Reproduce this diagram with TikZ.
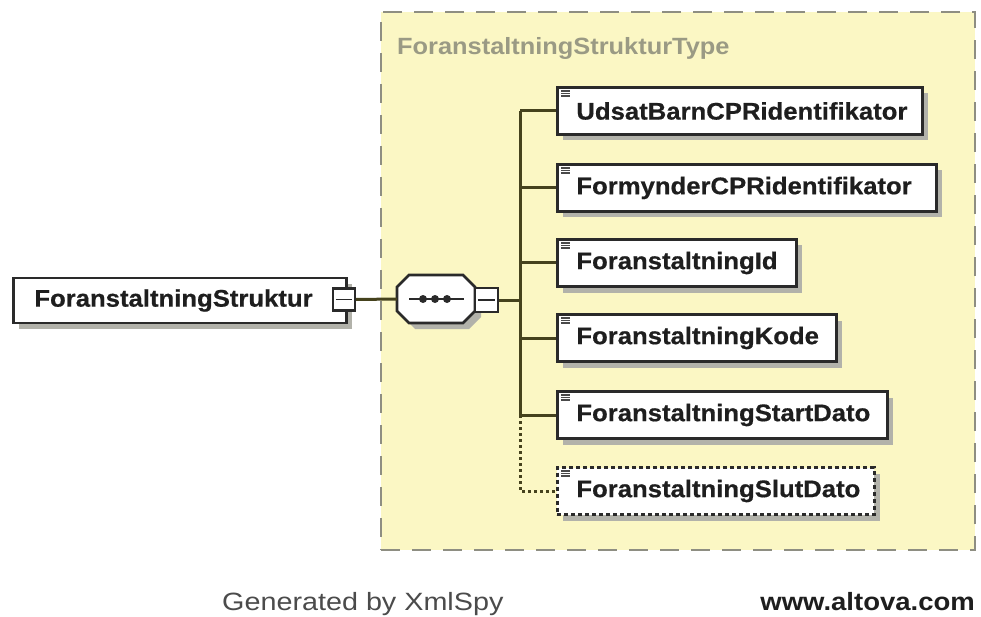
\documentclass[tikz,border=0pt]{standalone}
\usepackage{fontspec}
\setmainfont{Liberation Sans}
\newfontfamily\boxfont[FakeStretch=1.07,FakeBold=0.6]{Liberation Sans Bold}
\newfontfamily\titlefont[FakeStretch=1.08]{Liberation Sans Bold}
\newfontfamily\footfont[FakeStretch=1.15]{Liberation Sans}
\newfontfamily\footbold[FakeStretch=1.1]{Liberation Sans Bold}
\usetikzlibrary{shadows}
\definecolor{boxline}{HTML}{2A2A2A}
\definecolor{conn}{HTML}{45421D}
\definecolor{shadowgray}{HTML}{B2B2AA}
\definecolor{typefill}{HTML}{FBF7C4}
\definecolor{typeline}{HTML}{8E8E82}
\definecolor{titlegray}{HTML}{9A9A84}
\definecolor{textdark}{HTML}{1E1E1E}
\definecolor{icongray}{HTML}{4A4A4A}
\tikzset{
  elem/.style={draw=boxline, line width=2.8pt, fill=white,
    general shadow={fill=shadowgray, shadow xshift=6pt, shadow yshift=-6pt},
    minimum height=47pt, inner xsep=19pt, inner ysep=0pt, align=left,
    font=\boxfont\fontsize{24}{28}\selectfont, text=textdark, anchor=west},
  optelem/.style={elem, dash pattern=on 4pt off 3pt},
  minusbox/.style={draw=boxline, line width=2.4pt, fill=white,
    minimum width=22pt, minimum height=22pt, inner sep=0pt},
  seqanchor/.style={minimum width=78pt, minimum height=48pt, inner sep=0pt},
  seqline/.style={draw=boxline, line width=2.8pt, fill=white, line join=miter},
  conline/.style={draw=conn, line width=3pt},
  optline/.style={draw=conn, line width=3pt, dash pattern=on 3pt off 3pt},
  typebox/.style={draw=typeline, fill=typefill, line width=2.6pt, dash pattern=on 19pt off 12pt,
    minimum width=594pt, minimum height=538pt, inner sep=0pt},
  iconline/.style={draw=icongray, line width=1.4pt}
}
\newcommand\elicon[1]{%
  \foreach \d in {5,7.5,10}{\draw[iconline] ([shift={(5pt,-\d pt)}]#1.north west) -- ++(9pt,0pt);}}
\begin{document}
\begin{tikzpicture}[x=1pt,y=-1pt]
\useasboundingbox (0,0) rectangle (981,617);
\fill[white] (0,0) rectangle (981,617);
% type container
\node[typebox] (type) at (678,281) {};
\node[anchor=base west, text=titlegray, font=\titlefont\fontsize{23.5}{28}\selectfont, inner sep=0pt] (title) at (397,55) {ForanstaltningStrukturType};
% root element
\node[elem, minimum height=45pt, inner xsep=21pt, text width=291pt] (root) at (12,300.5) {ForanstaltningStruktur};
\node[minusbox] (rminus) at (344,299.5) {};
\draw[draw=boxline, line width=1.6pt] ([xshift=4pt]rminus.west) -- ([xshift=-4pt]rminus.east);
% sequence
\node[seqanchor] (seq) at (436,299) {};
\fill[shadowgray, shift={(6,6)}] (409,275) -- (463,275) -- (475,287) -- (475,311) -- (463,323) -- (409,323) -- (397,311) -- (397,287) -- cycle;
\draw[seqline] (409,275) -- (463,275) -- (475,287) -- (475,311) -- (463,323) -- (409,323) -- (397,311) -- (397,287) -- cycle;
\node[minusbox, minimum width=23pt, minimum height=24pt] (sminus) at (486.5,300) {};
\draw[draw=boxline, line width=1.6pt] ([xshift=4pt]sminus.west) -- ([xshift=-4pt]sminus.east);
\draw[draw=boxline, line width=2.6pt] (409,299) -- (464,299);
\foreach \xx in {423,435,447} \fill[boxline] (\xx,299) circle (4pt);
\draw[conline] (rminus.east) -- (seq.west);
\coordinate (trunk) at (520,300);
\draw[conline] (sminus.east) -- (trunk);
% children
\node[elem, text width=327pt] (c1) at (556,111) {UdsatBarnCPRidentifikator};
\node[elem, text width=341pt] (c2) at (556,188) {FormynderCPRidentifikator};
\node[elem, text width=201pt] (c3) at (556,263) {ForanstaltningId};
\node[elem, text width=241pt] (c4) at (556,338) {ForanstaltningKode};
\node[elem, text width=292pt] (c5) at (556,415) {ForanstaltningStartDato};
\node[optelem, text width=279pt] (c6) at (556,491) {ForanstaltningSlutDato};
\foreach \n in {c1,c2,c3,c4,c5,c6} {\elicon{\n}}
\draw[conline] (trunk |- c1.west) -- (trunk |- c5.west);
\foreach \n in {c1,c2,c3,c4,c5} {\draw[conline] (trunk |- \n.west) -- (\n.west);}
\draw[optline] (trunk |- c5.west) -- (trunk |- c6.west) -- (c6.west);
% footer
\node[anchor=base west, inner sep=0pt, text=textdark!80, font=\footfont\fontsize{25}{30}\selectfont] (gen) at (222,610) {Generated by XmlSpy};
\node[anchor=base east, inner sep=0pt, text=textdark, font=\footbold\fontsize{25}{30}\selectfont] (alt) at (975,610) {www.altova.com};
\end{tikzpicture}
\end{document}
